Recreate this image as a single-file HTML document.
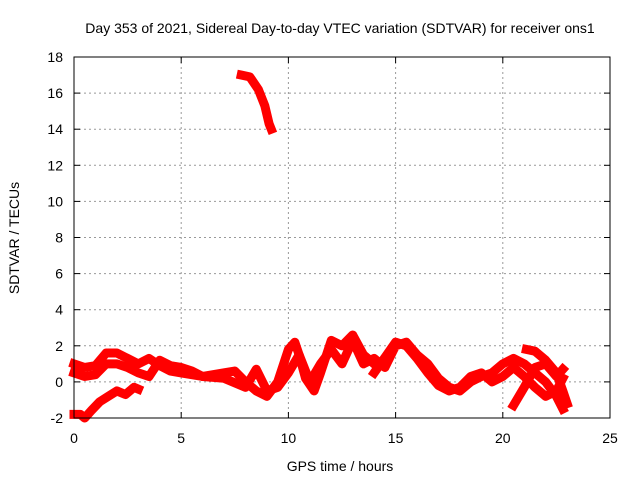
<!DOCTYPE html>
<html><head><meta charset="utf-8"><style>
body{margin:0;background:#fff}
svg{display:block;font-family:"Liberation Sans",sans-serif}
</style></head><body>
<svg id="chart" width="640" height="480" viewBox="0 0 640 480">
<text x="340" y="33" font-size="14" text-anchor="middle">Day 353 of 2021, Sidereal Day-to-day VTEC variation (SDTVAR) for receiver ons1</text>
<text x="340" y="471" font-size="14" text-anchor="middle">GPS time / hours</text>
<text transform="translate(19,238) rotate(-90)" font-size="14" text-anchor="middle">SDTVAR / TECUs</text>
<g id="grid"></g><g id="series"></g>
<rect x="74" y="57" width="536" height="361" fill="none" stroke="#000" stroke-width="1"/>
<g id="ticks"></g>
</svg>
<script>
const xTicks=[0,5,10,15,20,25];
const yTicks=[-2,0,2,4,6,8,10,12,14,16,18];
const trackA_x=[7.8,8.2,8.6,8.9,9.1,9.2];
const trackA_y=[17,16.9,16.2,15.3,14.3,14.0];
const trackB_x=[0,0.3,0.5,0.8,1.2,1.6,2.0,2.4,2.8,3.0];
const trackB_y=[-1.8,-1.8,-2,-1.6,-1.1,-0.8,-0.5,-0.7,-0.3,-0.4];
const trackC_x=[0,0.5,1,1.5,2,2.5,3,3.5,4,4.5,5,6,7,7.5,8,8.5,9,9.5,10,10.3,10.5,10.8,11.2,11.5,12,12.5,13,13.5,14];
const trackC_y=[1.0,0.8,0.9,1.6,1.6,1.3,1.0,1.3,0.9,0.6,0.5,0.3,0.5,0.6,0.0,-0.5,-0.8,0.0,1.8,2.2,1.5,0.2,-0.5,0.5,2.3,2.0,2.6,1.5,1.0];
const trackD_x=[0,0.5,1,1.5,2,2.5,3,3.5,4,4.5,5,5.5,6,7,8,8.5,9,9.5,10,10.5,11,11.5,12,12.5,13,13.5,14,14.5,15,15.5,16,16.5,17,17.5,18,18.5,19,19.5,20,20.5,21,21.5,22,22.5,22.8];
const trackD_y=[0.5,0.3,0.4,1.0,1.0,0.8,0.5,0.3,1.2,0.9,0.8,0.6,0.3,0.2,-0.3,0.7,-0.5,-0.3,0.5,1.5,0.0,1.0,1.8,1.0,2.3,1.0,1.3,0.8,2.0,2.2,1.5,1.0,0.2,-0.3,-0.5,0,0.3,0.5,1.0,1.3,1.0,0.5,0,-0.8,-1.5];
const trackE_x=[14,15,15.5,16,16.5,17,17.5,18,18.5,19,19.5,20,20.5,21,21.5,22,22.5,22.8];
const trackE_y=[0.5,2.2,2.0,1.3,0.5,-0.2,-0.5,-0.3,0.3,0.5,0,0.3,0.8,0.3,-0.3,-0.8,-0.5,0.2];
const trackF_x=[20.5,21,21.5,22,22.5,22.8];
const trackF_y=[-1.3,-0.3,0.8,1.0,0.3,0.7];
const trackG_x=[21.1,21.5,22,22.5,22.8,23];
const trackG_y=[1.8,1.7,1.2,0.5,-0.5,-1.2];
const NS='http://www.w3.org/2000/svg';
const X=h=>74+h*536/25, Y=v=>418-(v+2)*361/20;
const grid=document.getElementById('grid'),ticks=document.getElementById('ticks'),ser=document.getElementById('series');
function mk(t,a,p){const e=document.createElementNS(NS,t);for(const k in a)e.setAttribute(k,a[k]);p.appendChild(e);return e;}
xTicks.forEach(t=>{const x=X(t);
 if(t>0&&t<25){const g=mk('line',{x1:x,x2:x,y1:57,y2:418,stroke:'#999','stroke-dasharray':'2,3'},grid);
 
 }
 mk('line',{x1:x,x2:x,y1:418,y2:412,stroke:'#000'},ticks);mk('line',{x1:x,x2:x,y1:57,y2:63,stroke:'#000'},ticks);
 const l=mk('text',{x:x,y:443,'font-size':14,'text-anchor':'middle'},ticks);l.textContent=t;
 
 });
yTicks.forEach(t=>{const y=Y(t);
 if(t>-2&&t<18){const g=mk('line',{x1:74,x2:610,y1:y,y2:y,stroke:'#999','stroke-dasharray':'2,3'},grid);
 
 }
 mk('line',{x1:74,x2:80,y1:y,y2:y,stroke:'#000'},ticks);mk('line',{x1:610,x2:604,y1:y,y2:y,stroke:'#000'},ticks);
 const l=mk('text',{x:63,y:y+5,'font-size':14,'text-anchor':'end'},ticks);l.textContent=t;
 
 });
[[trackA_x,trackA_y],[trackB_x,trackB_y],[trackC_x,trackC_y],[trackD_x,trackD_y],[trackE_x,trackE_y],[trackF_x,trackF_y],[trackG_x,trackG_y]].forEach((s,i)=>{
 const pts=s[0].map((h,j)=>X(h)+','+Y(s[1][j])).join(' ');
 const p=mk('polyline',{points:pts,fill:'none',stroke:'#f00','stroke-width':9,'stroke-linejoin':'round','stroke-linecap':'square'},ser);
 
 
});
</script>
</body></html>
